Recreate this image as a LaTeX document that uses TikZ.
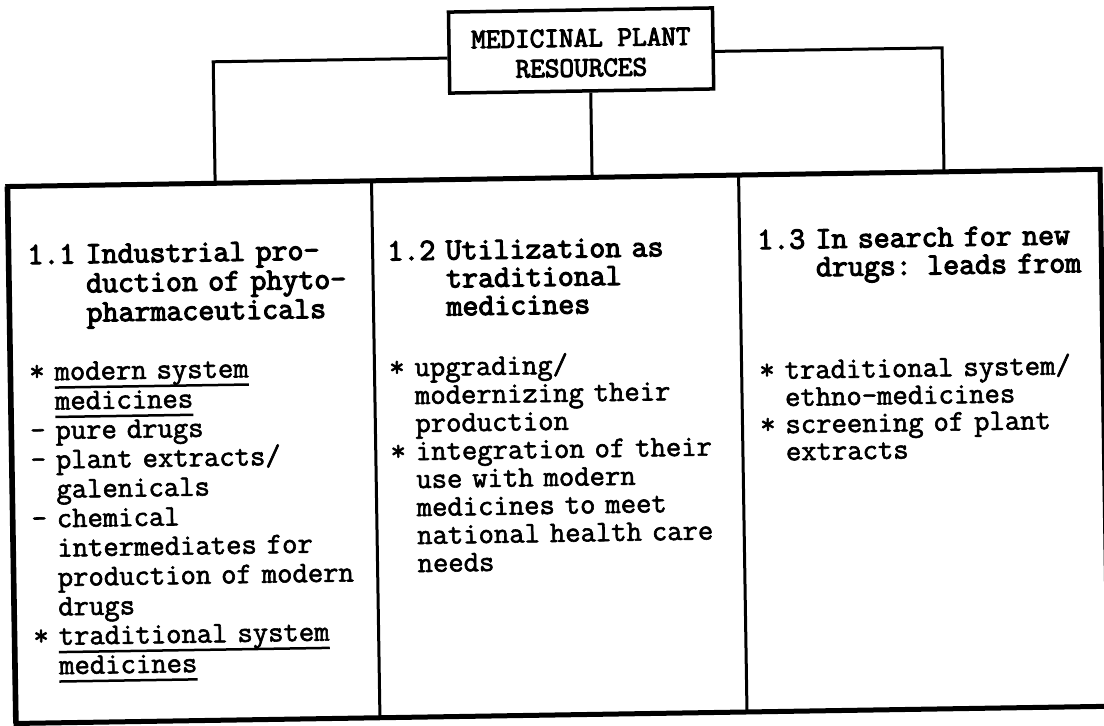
\documentclass[tikz,border=0pt]{standalone}
\usepackage{fontspec}
\newcommand\ulx[1]{\leavevmode\setbox0=\hbox{#1}\rlap{\rule[-8.5pt]{\wd0}{2.5pt}}\box0}
\newfontfamily\bodymono{Latin Modern Mono}[FakeBold=2]
\newfontfamily\headmono{Latin Modern Mono}[FakeBold=3.5]
\tikzset{
  frame/.style={draw=black, line width=5pt},
  divider/.style={draw=black, line width=3pt},
  conn/.style={draw=black, line width=3pt},
  topbox/.style={draw=black, line width=3.5pt, minimum width=264pt, minimum height=81pt, inner sep=0pt, align=center, font=\headmono\fontsize{28.4}{30}\selectfont},
  bodytxt/.style={anchor=base west, inner sep=0pt, align=left, text width=345pt, font=\bodymono\fontsize{29.8}{28}\selectfont},
  headtxt/.style={bodytxt, font=\headmono\fontsize{31}{28}\selectfont}
}
\begin{document}
\begin{tikzpicture}[x=1pt,y=-1pt]
\useasboundingbox (0,0) rectangle (1104,726);
\fill[white] (0,0) rectangle (1104,726);
\begin{scope}[rotate around={0.9:(552,363)}, transform shape]
  % outer frame and column dividers
  \draw[frame] (10.6,178) rectangle (1103,715);
  \draw[line width=3pt] (9,178) -- (9,715);
  \draw[divider] (374.4,178) -- (374.4,715);
  \draw[divider] (741.5,178) -- (741.5,715);
  % anchor points on the frame
  \coordinate (t1) at (218,178);
  \coordinate (t2) at (595,178);
  \coordinate (t3) at (947,178);
  \coordinate (k1) at (218,56.5);
  \coordinate (k3) at (947,54);
  % top box
  \node[topbox] (top) at (586,51) {\rule{0pt}{22.5pt}MEDICINAL PLANT\\RESOURCES};
  \draw[conn] (top.west |- k1) -- (k1) -- (t1);
  \draw[conn] (t2 |- top.south) -- (t2);
  \draw[conn] (top.east |- k3) -- (k3) -- (t3);
  % column 1
  \node[headtxt, font=\headmono\fontsize{31}{29.2}\selectfont] (h1) at (29,256) {1.1 Industrial pro-\\\hphantom{1.1 }duction of phyto-\\\hphantom{1.1 }pharmaceuticals};
  \node[bodytxt, font=\bodymono\fontsize{29.8}{29.4}\selectfont] (b1) at (29,372.5) {{}* \ulx{modern system}\\
    \hphantom{* }\ulx{medicines}\\
    {}- pure drugs\\
    {}- plant extracts/\\
    \hphantom{- }galenicals\\
    {}- chemical\\
    \hphantom{- }intermediates for\\
    \hphantom{- }production of modern\\
    \hphantom{- }drugs\\
    {}* \ulx{traditional system}\\
    \hphantom{* }\ulx{medicines}};
  % column 2
  \node[headtxt] (h2) at (389,258) {1.2 Utilization as\\\hphantom{1.2 }traditional\\\hphantom{1.2 }medicines};
  \node[bodytxt] (b2) at (389,374) {{}* upgrading/\\
    \hphantom{* }modernizing their\\
    \hphantom{* }production\\
    {}* integration of their\\
    \hphantom{* }use with modern\\
    \hphantom{* }medicines to meet\\
    \hphantom{* }national health care\\
    \hphantom{* }needs};
  % column 3
  \node[headtxt] (h3) at (759,252.5) {1.3 In search for new\\\hphantom{1.3 }drugs: leads from};
  \node[bodytxt, font=\bodymono\fontsize{29.8}{27.2}\selectfont] (b3) at (759,382.5) {{}* traditional system/\\
    \hphantom{* }ethno-medicines\\
    {}* screening of plant\\
    \hphantom{* }extracts};
\end{scope}
\end{tikzpicture}
\end{document}
